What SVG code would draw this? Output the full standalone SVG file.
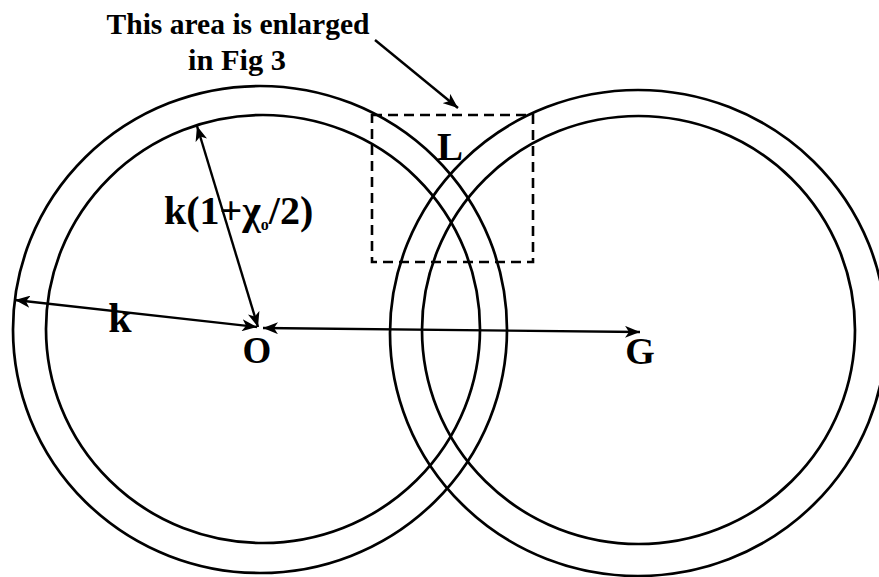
<svg xmlns="http://www.w3.org/2000/svg" width="879" height="577" viewBox="0 0 879 577">
<style>
.c{fill:none;stroke:#000;stroke-width:2.7}
.ln{fill:none;stroke:#000;stroke-width:2.4}
.dash{fill:none;stroke:#000;stroke-width:2.6;stroke-dasharray:10 6}
.t{font-family:"Liberation Serif","Times New Roman",serif;font-weight:bold;fill:#000}
</style>
<defs>
<marker id="ah" markerUnits="userSpaceOnUse" markerWidth="16" markerHeight="12" refX="15" refY="6" orient="auto-start-reverse">
<path d="M0,0 L15,6 L0,12 L4,6 Z" fill="#000"/>
</marker>
</defs>
<rect width="879" height="577" fill="#fff"/>
<g id="sphere-O-outer"><ellipse class="c" cx="260" cy="329.5" rx="247" ry="243.5"/></g>
<g id="sphere-O-inner"><ellipse class="c" cx="263" cy="329" rx="217" ry="214"/></g>
<g id="sphere-G-outer"><ellipse class="c" cx="638" cy="333" rx="248" ry="243"/></g>
<g id="sphere-G-inner"><ellipse class="c" cx="638.5" cy="330" rx="216.5" ry="214"/></g>
<g id="enlarged-area"><rect class="dash" x="372" y="115" width="161" height="147"/></g>
<g id="connectors">
<line class="ln" x1="375" y1="40" x2="458" y2="108" marker-end="url(#ah)"/>
<line class="ln" x1="258" y1="327" x2="197" y2="126" marker-start="url(#ah)" marker-end="url(#ah)"/>
<line class="ln" x1="257" y1="327" x2="15" y2="300" marker-start="url(#ah)" marker-end="url(#ah)"/>
<line class="ln" x1="263" y1="328" x2="640" y2="332" marker-start="url(#ah)" marker-end="url(#ah)"/>
</g>
<g id="label-title">
<text class="t" x="238" y="34" font-size="30" text-anchor="middle" textLength="263" lengthAdjust="spacingAndGlyphs">This area is enlarged</text>
<text class="t" x="237" y="70" font-size="30" text-anchor="middle" textLength="98" lengthAdjust="spacingAndGlyphs">in Fig 3</text>
</g>
<g id="node-L"><text class="t" x="450" y="160" font-size="39" text-anchor="middle">L</text></g>
<g id="node-O"><text class="t" x="257" y="363" font-size="37" text-anchor="middle">O</text></g>
<g id="node-G"><text class="t" x="640" y="364" font-size="38" text-anchor="middle">G</text></g>
<g id="label-k"><text class="t" x="120" y="332" font-size="42" text-anchor="middle">k</text></g>
<g id="label-radius"><text class="t" x="164" y="224" font-size="40">k(1+χ<tspan font-size="16" dy="6">o</tspan><tspan dy="-6">/2)</tspan></text></g>
</svg>
